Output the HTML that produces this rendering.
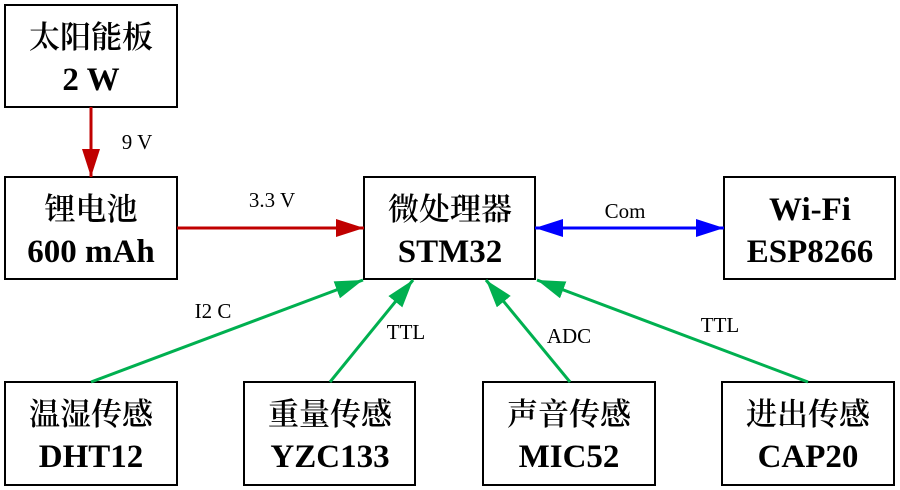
<!DOCTYPE html>
<html><head><meta charset="utf-8"><style>
html,body{margin:0;padding:0;background:#fff;}
svg{display:block;}
.t1{font-family:"Liberation Serif","Noto Serif CJK SC",serif;font-size:31px;font-weight:600;}
.t2{font-family:"Liberation Serif",serif;font-size:33px;font-weight:bold;}
.l{font-family:"Liberation Serif",serif;font-size:21px;}
</style></head><body>
<svg width="900" height="490" viewBox="0 0 900 490">
<defs>
<marker id="r" markerWidth="28" markerHeight="18" refX="28" refY="9" orient="auto" markerUnits="userSpaceOnUse"><path d="M0,0 L28,9 L0,18 Z" fill="#c00000"/></marker>
<marker id="b" markerWidth="28" markerHeight="18" refX="28" refY="9" orient="auto" markerUnits="userSpaceOnUse"><path d="M0,0 L28,9 L0,18 Z" fill="#0000ff"/></marker>
<marker id="bs" markerWidth="28" markerHeight="18" refX="0" refY="9" orient="auto" markerUnits="userSpaceOnUse"><path d="M28,0 L0,9 L28,18 Z" fill="#0000ff"/></marker>
<marker id="g" markerWidth="28" markerHeight="18" refX="28" refY="9" orient="auto" markerUnits="userSpaceOnUse"><path d="M0,0 L28,9 L0,18 Z" fill="#00b050"/></marker>
</defs>
<g fill="#fff" stroke="#000" stroke-width="2">
<rect x="5" y="5" width="172" height="102"/>
<rect x="5" y="177" width="172" height="102"/>
<rect x="364" y="177" width="171" height="102"/>
<rect x="724" y="177" width="171" height="102"/>
<rect x="5" y="382" width="172" height="103"/>
<rect x="244" y="382" width="171" height="103"/>
<rect x="483" y="382" width="172" height="103"/>
<rect x="722" y="382" width="172" height="103"/>
</g>
<g text-anchor="middle">
<text class="t1" x="91" y="48">太阳能板</text><text class="t2" x="91" y="90">2 W</text>
<text class="t1" x="91" y="220">锂电池</text><text class="t2" x="91" y="262">600 mAh</text>
<text class="t1" x="450" y="220">微处理器</text><text class="t2" x="450" y="262">STM32</text>
<text class="t2" x="810" y="220">Wi-Fi</text><text class="t2" x="810" y="262">ESP8266</text>
<text class="t1" x="91" y="425">温湿传感</text><text class="t2" x="91" y="467">DHT12</text>
<text class="t1" x="330" y="425">重量传感</text><text class="t2" x="330" y="467">YZC133</text>
<text class="t1" x="569" y="425">声音传感</text><text class="t2" x="569" y="467">MIC52</text>
<text class="t1" x="808" y="425">进出传感</text><text class="t2" x="808" y="467">CAP20</text>
</g>
<g stroke-width="3" fill="none">
<line x1="91" y1="107" x2="91" y2="177" stroke="#c00000" marker-end="url(#r)"/>
<line x1="177" y1="228" x2="364" y2="228" stroke="#c00000" marker-end="url(#r)"/>
<line x1="535" y1="228" x2="724" y2="228" stroke="#0000ff" marker-end="url(#b)" marker-start="url(#bs)"/>
<line x1="91" y1="382" x2="363" y2="280" stroke="#00b050" marker-end="url(#g)"/>
<line x1="330" y1="382" x2="413" y2="280" stroke="#00b050" marker-end="url(#g)"/>
<line x1="570" y1="382" x2="486" y2="280" stroke="#00b050" marker-end="url(#g)"/>
<line x1="808" y1="382" x2="537" y2="280" stroke="#00b050" marker-end="url(#g)"/>
</g>
<g class="l" text-anchor="middle">
<text x="137" y="149">9 V</text>
<text x="272" y="207">3.3 V</text>
<text x="625" y="218">Com</text>
<text x="213" y="318">I2 C</text>
<text x="406" y="339">TTL</text>
<text x="569" y="343">ADC</text>
<text x="720" y="332">TTL</text>
</g>
</svg>
</body></html>
